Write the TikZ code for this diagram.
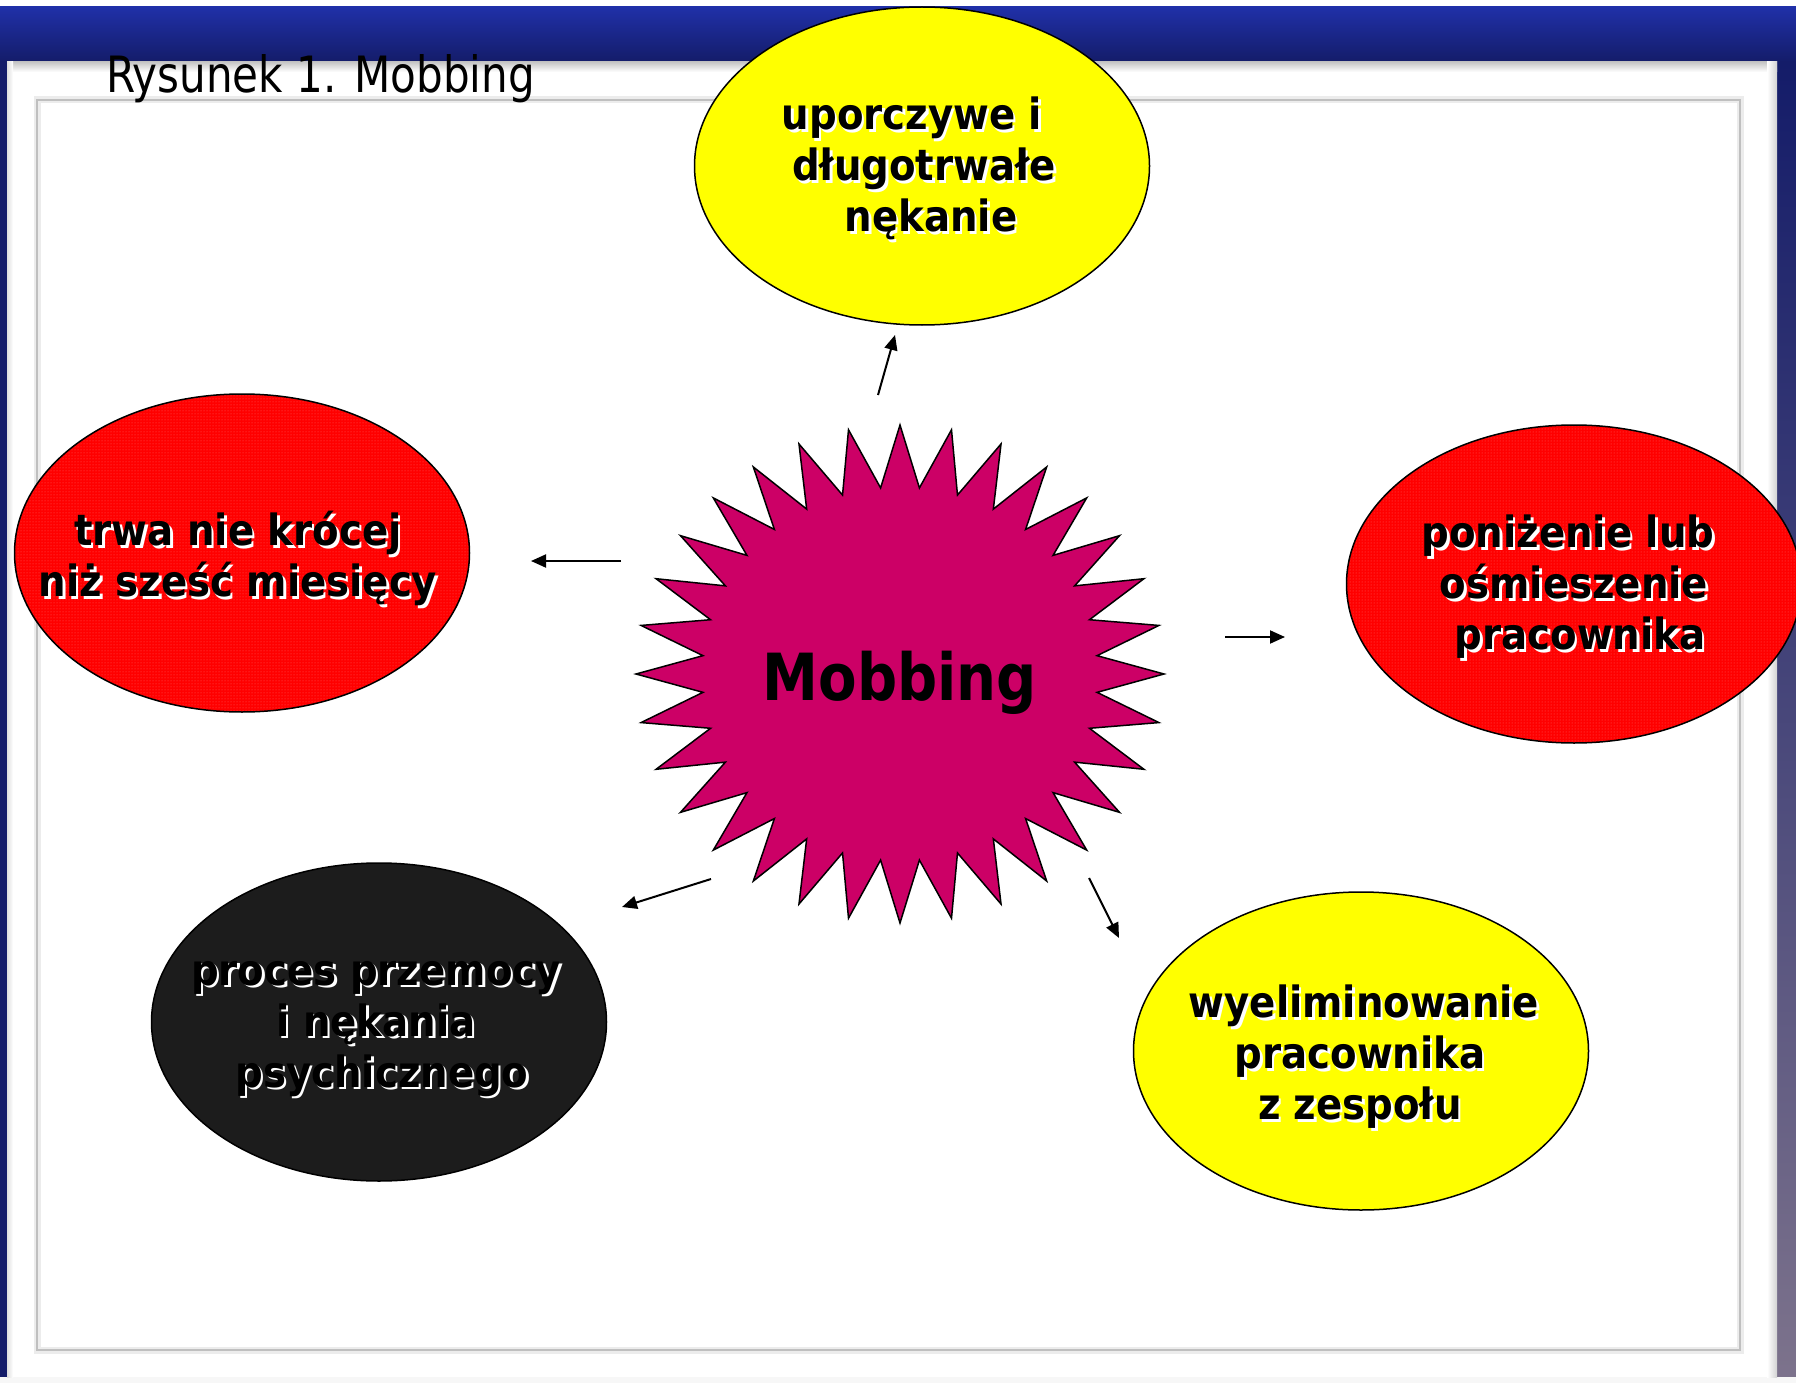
\documentclass[tikz,border=0pt]{standalone}
\usepackage{fontspec}
\setmainfont{DejaVu Sans Condensed}[BoldFont={DejaVu Sans Condensed Bold}]
\usetikzlibrary{shapes.geometric,arrows.meta,patterns}

\definecolor{bubyellow}{RGB}{255,255,0}
\definecolor{bubred}{RGB}{255,0,0}
\definecolor{dotred}{RGB}{255,95,95}
\definecolor{bubblack}{RGB}{28,28,28}
\definecolor{starpink}{RGB}{204,0,102}
\definecolor{barblue}{RGB}{32,48,168}
\definecolor{bardark}{RGB}{20,28,105}
\definecolor{photomid}{RGB}{120,135,175}
\definecolor{photolow}{RGB}{125,115,140}

% text with a light drop shadow to the lower right
\newcommand\shtxt[1]{\leavevmode\rlap{\kern2.5pt\raisebox{-2.5pt}{\color{white}#1}}#1}

\begin{document}
\begin{tikzpicture}[x=1pt,y=-1pt,
  bubble/.style={ellipse, draw=black, line width=1.5pt,
    minimum width=455pt, minimum height=318pt, inner sep=0pt},
  yellowbubble/.style={bubble, fill=bubyellow},
  redbubble/.style={bubble, preaction={fill=bubred},
    preaction={pattern=dots, pattern color=dotred}},
  blackbubble/.style={bubble, fill=bubblack},
  btext/.style={align=center, inner sep=0pt,
    font=\bfseries\fontsize{43}{51}\selectfont},
  link/.style={line width=2pt, -{Triangle[length=15pt,width=13pt]}}]

\useasboundingbox (0,0) rectangle (1796,1383);

% window background
\fill[barblue] (0,0) rectangle (1796,1383);
\fill[white] (0,0) rectangle (1796,7);
\shade[top color=barblue, bottom color=bardark] (0,7) rectangle (1796,62);
\shade[top color=bardark, middle color=photomid, bottom color=bardark] (0,62) rectangle (7,1383);
\shade[top color=bardark, middle color=photomid, bottom color=photolow] (1777,62) rectangle (1796,1383);
\fill[gray!6] (0,1377) rectangle (1796,1383);

% outer white panel with soft edges
\fill[white] (7,62) rectangle (1777,1377);
\shade[top color=gray!45, bottom color=white] (7,62) rectangle (1777,72);
\shade[left color=white, right color=gray!35] (1767,62) rectangle (1777,1377);
\shade[left color=gray!25, right color=white] (7,62) rectangle (13,1377);

% inner panel frame
\draw[line width=7pt, gray!15] (37,100) rectangle (1740,1350);
\draw[line width=2.5pt, gray!50] (37,100) rectangle (1740,1350);

% caption
\node[anchor=base west, inner sep=0pt, font=\fontsize{50}{60}\selectfont]
  (title) at (106,93) {\scalebox{0.935}[1]{Rysunek 1. Mobbing}};

% central burst
\draw[fill=starpink, line width=1.5pt, line join=miter]
  plot[samples at={0,...,63}, variable=\k]
  ({900+ifthenelse(mod(\k,2)==0,264,198)*cos(90+\k*5.625)},
   {674-ifthenelse(mod(\k,2)==0,249,187)*sin(90+\k*5.625)}) -- cycle;
\node[anchor=base, inner sep=0pt, font=\bfseries\fontsize{65}{70}\selectfont]
  (mob) at (900,700) {\scalebox{0.96}[1]{Mobbing}};

% surrounding ellipses
\node[yellowbubble] (top) at (922,166) {};
\node[redbubble] (left) at (242,553) {};
\node[redbubble] (right) at (1574,584) {};
\node[blackbubble] (lowleft) at (379,1022) {};
\node[yellowbubble] (lowright) at (1361,1051) {};

\node[btext] (toptext) at (918,170)
  {\shtxt{uporczywe i}\hspace*{12pt}\\\hspace*{12pt}\shtxt{długotrwałe}\\\hspace*{26pt}\shtxt{nękanie}};
\node[btext] (lefttext) at (238,560)
  {\shtxt{trwa nie krócej}\\\shtxt{niż sześć miesięcy}};
\node[btext] (righttext) at (1574,588)
  {\shtxt{poniżenie lub}\hspace*{12pt}\\\shtxt{ośmieszenie}\\\hspace*{12pt}\shtxt{pracownika}};
\node[btext] (lowlefttext) at (376,1030)
  {\shtxt{proces przemocy}\\\shtxt{i nękania}\\\hspace*{12pt}\shtxt{psychicznego}};
\node[btext] (lowrighttext) at (1360,1058)
  {\hspace*{8pt}\shtxt{wyeliminowanie}\\\shtxt{pracownika}\hspace*{8pt}\\\shtxt{z zespołu}};

% arrows pointing outwards
\coordinate (upA) at (878,395);   \coordinate (upB) at (895,335);
\coordinate (lfA) at (621,561);   \coordinate (lfB) at (531,561);
\coordinate (rtA) at (1225,637);  \coordinate (rtB) at (1285,637);
\coordinate (lrA) at (1089,878);  \coordinate (lrB) at (1119,938);
\coordinate (llA) at (711,879);   \coordinate (llB) at (622,907);
\draw[link] (upA) -- (upB);
\draw[link] (lfA) -- (lfB);
\draw[link] (rtA) -- (rtB);
\draw[link] (lrA) -- (lrB);
\draw[link] (llA) -- (llB);
\end{tikzpicture}
\end{document}
